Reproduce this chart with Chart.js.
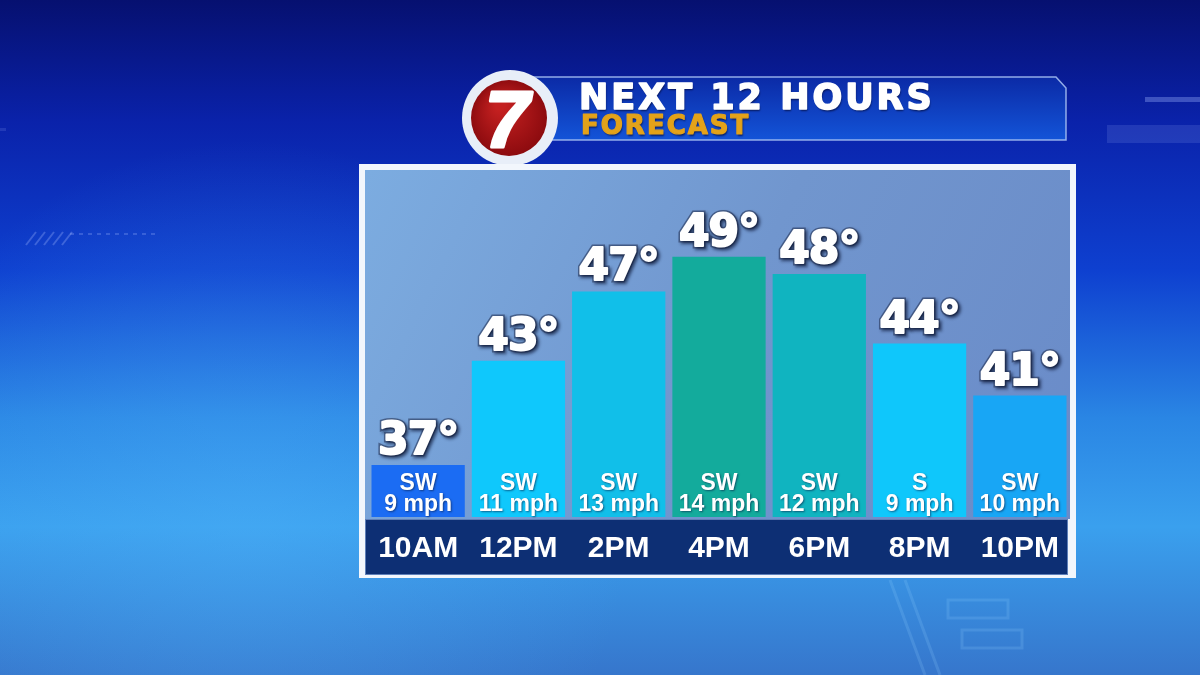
<!DOCTYPE html>
<html>
<head>
<meta charset="utf-8">
<script src="https://cdn.jsdelivr.net/npm/chart.js@4.4.1/dist/chart.umd.min.js"></script>
<style>
  html, body { margin: 0; padding: 0; background: #0a2fb8; }
  #chart { display: block; }
</style>
</head>
<body>
<canvas id="chart" width="1200" height="675"></canvas>
<script>
// chart data
var hours = ['10AM', '12PM', '2PM', '4PM', '6PM', '8PM', '10PM'];
var temps = [37, 43, 47, 49, 48, 44, 41];
var windDir = ['SW', 'SW', 'SW', 'SW', 'SW', 'S', 'SW'];
var windSpeed = [9, 11, 13, 14, 12, 9, 10];
var barColors = ['#1b6cf3', '#0fc8fc', '#11bfe9', '#13ab9c', '#10b4c0', '#0fc7fb', '#18a6f5'];

var boldSans = '"Liberation Sans", Arial, sans-serif';
var wideSans = '"DejaVu Sans", sans-serif';

// heavy text: fill plus a same-colour stroke to fatten the glyphs
function heavyText(ctx, txt, x, y, color, weight) {
    ctx.fillStyle = color;
    ctx.fillText(txt, x, y);
    ctx.save();
    ctx.shadowColor = 'transparent';
    ctx.strokeStyle = color;
    ctx.lineWidth = weight;
    ctx.lineJoin = 'round';
    ctx.strokeText(txt, x, y);
    ctx.restore();
}

// background, header and panel behind the bars
var backdrop = {
    id: 'backdrop',
    beforeDraw: function(chart) {
        var ctx = chart.ctx;
        var a = chart.chartArea;
        var W = chart.width, H = chart.height;
        ctx.save();

        var bg = ctx.createLinearGradient(0, 0, 0, H);
        bg.addColorStop(0, '#061070');
        bg.addColorStop(0.18, '#0a22aa');
        bg.addColorStop(0.4, '#0e40d0');
        bg.addColorStop(0.62, '#2a86e4');
        bg.addColorStop(0.78, '#3aa0ee');
        bg.addColorStop(1, '#3676cc');
        ctx.fillStyle = bg;
        ctx.fillRect(0, 0, W, H);

        var glow = ctx.createRadialGradient(250, 520, 20, 250, 520, 380);
        glow.addColorStop(0, 'rgba(80,180,250,0.35)');
        glow.addColorStop(1, 'rgba(80,180,250,0)');
        ctx.fillStyle = glow;
        ctx.fillRect(0, 0, W, H);

        // faint decorations
        ctx.fillStyle = 'rgba(160,180,255,0.35)';
        ctx.fillRect(1145, 97, 55, 5);
        ctx.fillStyle = 'rgba(140,160,240,0.18)';
        ctx.fillRect(1107, 125, 93, 18);
        ctx.fillRect(0, 128, 6, 3);
        ctx.strokeStyle = 'rgba(170,190,255,0.3)';
        ctx.lineWidth = 2;
        for (var i = 0; i < 5; i++) {
            ctx.beginPath();
            ctx.moveTo(26 + i * 9, 245);
            ctx.lineTo(36 + i * 9, 232);
            ctx.stroke();
        }
        ctx.fillStyle = 'rgba(170,190,255,0.25)';
        for (var j = 0; j < 10; j++) ctx.fillRect(70 + j * 9, 233, 4, 2);
        ctx.strokeStyle = 'rgba(150,210,255,0.18)';
        ctx.lineWidth = 3;
        ctx.strokeRect(948, 600, 60, 18);
        ctx.strokeRect(962, 630, 60, 18);
        ctx.beginPath();
        ctx.moveTo(890, 580); ctx.lineTo(925, 675);
        ctx.moveTo(905, 580); ctx.lineTo(940, 675);
        ctx.stroke();

        // header banner
        ctx.beginPath();
        ctx.moveTo(530, 77);
        ctx.lineTo(1056, 77);
        ctx.lineTo(1066, 88);
        ctx.lineTo(1066, 140);
        ctx.lineTo(530, 140);
        ctx.closePath();
        var bn = ctx.createLinearGradient(0, 77, 0, 140);
        bn.addColorStop(0, '#0b2aa6');
        bn.addColorStop(1, '#1354d8');
        ctx.fillStyle = bn;
        ctx.fill();
        ctx.strokeStyle = 'rgba(170,195,245,0.85)';
        ctx.lineWidth = 1.5;
        ctx.stroke();

        // logo
        ctx.beginPath();
        ctx.arc(510, 118, 48, 0, Math.PI * 2);
        ctx.fillStyle = '#e8eef8';
        ctx.fill();
        ctx.beginPath();
        ctx.arc(509, 118, 38, 0, Math.PI * 2);
        var rg = ctx.createRadialGradient(500, 105, 5, 509, 118, 40);
        rg.addColorStop(0, '#c42020');
        rg.addColorStop(1, '#8a0a0e');
        ctx.fillStyle = rg;
        ctx.fill();
        ctx.font = 'italic bold 80px ' + boldSans;
        ctx.textAlign = 'center';
        ctx.textBaseline = 'alphabetic';
        heavyText(ctx, '7', 507, 147, '#ffffff', 3);

        // titles
        ctx.textAlign = 'left';
        ctx.shadowColor = 'rgba(0,0,30,0.6)';
        ctx.shadowOffsetX = 1;
        ctx.shadowOffsetY = 2;
        ctx.shadowBlur = 2;
        ctx.font = 'bold 35px ' + wideSans;
        ctx.letterSpacing = '3px';
        heavyText(ctx, 'NEXT 12 HOURS', 579, 109, '#ffffff', 1.6);
        ctx.font = 'bold 26px ' + wideSans;
        ctx.letterSpacing = '2px';
        heavyText(ctx, 'FORECAST', 581, 134, '#e3a219', 1.2);
        ctx.letterSpacing = '0px';
        ctx.shadowColor = 'transparent';

        // white frame, plot panel and time band
        ctx.fillStyle = '#f2f6fc';
        ctx.fillRect(a.left - 9, a.top - 6, a.right - a.left + 15, 414);
        var pg = ctx.createLinearGradient(a.left, a.top, a.right, a.bottom);
        pg.addColorStop(0, '#7cace0');
        pg.addColorStop(0.5, '#7196ce');
        pg.addColorStop(1, '#6a8bc8');
        ctx.fillStyle = pg;
        ctx.fillRect(a.left - 3, a.top, a.right - a.left + 3, a.bottom - a.top + 2);
        ctx.fillStyle = '#5e7fb8';
        ctx.fillRect(a.left - 3, a.bottom + 2, a.right - a.left + 1, 56);
        ctx.fillStyle = '#0d2f74';
        ctx.fillRect(a.left - 2, a.bottom + 3, a.right - a.left - 1, 54);
        ctx.restore();
    }
};

// temperature above each bar and wind inside it
var barText = {
    id: 'barText',
    afterDatasetsDraw: function(chart) {
        var ctx = chart.ctx;
        var bottom = chart.chartArea.bottom;
        var meta = chart.getDatasetMeta(0);
        ctx.save();
        ctx.textAlign = 'center';
        ctx.textBaseline = 'alphabetic';
        meta.data.forEach(function(bar, i) {
            ctx.font = 'bold 44px ' + wideSans;
            ctx.letterSpacing = '-1px';
            ctx.shadowColor = 'rgba(10,20,50,0.75)';
            ctx.shadowOffsetX = 2;
            ctx.shadowOffsetY = 2;
            ctx.shadowBlur = 3;
            ctx.strokeStyle = 'rgba(40,55,90,0.6)';
            ctx.lineWidth = 5;
            ctx.strokeText(temps[i] + '°', bar.x, bar.y - 11);
            heavyText(ctx, temps[i] + '°', bar.x, bar.y - 11, '#ffffff', 2);
            ctx.letterSpacing = '0px';

            ctx.font = 'bold 23px ' + boldSans;
            ctx.shadowColor = 'rgba(10,30,70,0.6)';
            ctx.shadowOffsetX = 1;
            ctx.shadowOffsetY = 1;
            ctx.shadowBlur = 2;
            ctx.fillStyle = '#ffffff';
            ctx.fillText(windDir[i], bar.x, bottom - 27);
            ctx.fillText(windSpeed[i] + ' mph', bar.x, bottom - 6);
        });
        ctx.restore();
    }
};

new Chart(document.getElementById('chart'), {
    type: 'bar',
    data: {
        labels: hours,
        datasets: [{
            data: temps,
            backgroundColor: barColors,
            borderWidth: 0,
            categoryPercentage: 1,
            barPercentage: 0.93
        }]
    },
    options: {
        responsive: false,
        animation: false,
        events: [],
        layout: { padding: { left: 368, right: 130, top: 170, bottom: 94 } },
        plugins: {
            legend: { display: false },
            title: { display: false },
            tooltip: { enabled: false }
        },
        scales: {
            x: {
                grid: { display: false, drawTicks: false },
                border: { display: false },
                ticks: {
                    color: '#ffffff',
                    padding: 14,
                    font: { family: boldSans, size: 30, weight: 'bold' }
                }
            },
            y: {
                display: false,
                min: 34,
                max: 54
            }
        }
    },
    plugins: [backdrop, barText]
});
</script>
</body>
</html>
